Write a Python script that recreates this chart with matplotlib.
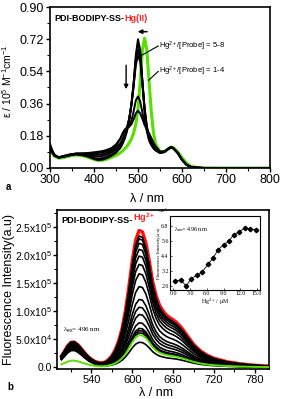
import matplotlib
matplotlib.use('Agg')
import matplotlib.pyplot as plt
from matplotlib.ticker import MultipleLocator, FixedLocator, FixedFormatter
import numpy as np

plt.rcParams['font.family'] = ['Liberation Sans', 'DejaVu Sans']
plt.rcParams['mathtext.fontset'] = 'custom'
plt.rcParams['mathtext.rm'] = 'Liberation Sans'
plt.rcParams['mathtext.it'] = 'Liberation Sans:italic'
plt.rcParams['mathtext.bf'] = 'Liberation Sans:bold'

# ---------------- panel a: absorption ----------------
wl_abs = [300, 305, 310, 320, 330, 340, 350, 360, 370, 380, 390, 400, 410, 420, 430, 440, 450, 460,
          465, 470, 475, 480, 485, 490, 495, 500, 505, 510, 515, 520, 525, 530, 535, 540,
          550, 560, 570, 575, 580, 590, 600, 610, 620, 630, 650, 700, 750, 800]
abs_green = [0.110, 0.085, 0.066, 0.055, 0.058, 0.064, 0.070, 0.073, 0.070, 0.065,
             0.057, 0.048, 0.042, 0.044, 0.050, 0.060, 0.070, 0.085,
             0.095, 0.108, 0.122, 0.140, 0.162, 0.195, 0.245, 0.330, 0.480, 0.660, 0.725, 0.660, 0.490, 0.320, 0.200, 0.135,
             0.090, 0.090, 0.108, 0.116, 0.114, 0.092, 0.058, 0.028, 0.010, 0.004, 0.001, 0.0, 0.0, 0.0]
abs_b1 = [0.135, 0.100, 0.075, 0.060, 0.062, 0.068, 0.073, 0.076, 0.073, 0.068,
          0.060, 0.050, 0.044, 0.047, 0.056, 0.068, 0.085, 0.112,
          0.135, 0.165, 0.205, 0.265, 0.350, 0.470, 0.630, 0.720, 0.660, 0.480, 0.310, 0.205, 0.155, 0.128, 0.110, 0.098,
          0.083, 0.090, 0.112, 0.118, 0.112, 0.085, 0.045, 0.018, 0.006, 0.002, 0.0, 0.0, 0.0, 0.0]
abs_b2 = [0.125, 0.095, 0.072, 0.058, 0.062, 0.068, 0.074, 0.077, 0.074, 0.070,
          0.064, 0.056, 0.052, 0.056, 0.064, 0.076, 0.092, 0.120,
          0.145, 0.175, 0.215, 0.272, 0.355, 0.470, 0.615, 0.700, 0.645, 0.485, 0.325, 0.215, 0.163, 0.133, 0.113, 0.100,
          0.084, 0.090, 0.110, 0.117, 0.112, 0.086, 0.046, 0.019, 0.006, 0.002, 0.0, 0.0, 0.0, 0.0]
abs_b3 = [0.120, 0.092, 0.070, 0.058, 0.063, 0.070, 0.076, 0.079, 0.077, 0.074,
          0.070, 0.066, 0.064, 0.068, 0.076, 0.088, 0.104, 0.132,
          0.155, 0.182, 0.220, 0.275, 0.355, 0.465, 0.595, 0.660, 0.620, 0.480, 0.335, 0.230, 0.172, 0.140, 0.117, 0.103,
          0.086, 0.091, 0.110, 0.116, 0.111, 0.085, 0.046, 0.019, 0.006, 0.002, 0.0, 0.0, 0.0, 0.0]
abs_b4 = [0.115, 0.090, 0.070, 0.058, 0.064, 0.071, 0.077, 0.080, 0.079, 0.077,
          0.075, 0.074, 0.074, 0.078, 0.086, 0.097, 0.112, 0.140,
          0.162, 0.190, 0.225, 0.278, 0.352, 0.455, 0.575, 0.630, 0.595, 0.470, 0.335, 0.235, 0.178, 0.145, 0.120, 0.105,
          0.087, 0.091, 0.110, 0.116, 0.111, 0.085, 0.046, 0.019, 0.006, 0.002, 0.0, 0.0, 0.0, 0.0]
abs_b5 = [0.110, 0.088, 0.070, 0.060, 0.066, 0.072, 0.077, 0.080, 0.080, 0.080,
          0.081, 0.082, 0.084, 0.088, 0.095, 0.105, 0.125, 0.165,
          0.195, 0.215, 0.228, 0.240, 0.265, 0.315, 0.378, 0.400, 0.372, 0.310, 0.255, 0.220, 0.192, 0.165, 0.138, 0.117,
          0.090, 0.092, 0.108, 0.114, 0.110, 0.085, 0.046, 0.019, 0.006, 0.002, 0.0, 0.0, 0.0, 0.0]
abs_b6 = [0.105, 0.085, 0.068, 0.060, 0.067, 0.073, 0.078, 0.081, 0.082, 0.083,
          0.085, 0.088, 0.091, 0.095, 0.102, 0.112, 0.132, 0.165,
          0.188, 0.210, 0.222, 0.230, 0.245, 0.272, 0.305, 0.320, 0.305, 0.275, 0.240, 0.215, 0.193, 0.168, 0.142, 0.120,
          0.092, 0.093, 0.108, 0.114, 0.110, 0.085, 0.046, 0.019, 0.006, 0.002, 0.0, 0.0, 0.0, 0.0]
abs_black = [abs_b1, abs_b2, abs_b3, abs_b4, abs_b5, abs_b6]

# ---------------- panel b: emission ----------------
wl_em = [496, 500, 505, 510, 515, 520, 525, 530, 535, 540, 545, 550, 555, 560, 565, 570, 575, 580, 585,
         590, 595, 600, 605, 610, 615, 620, 625, 630, 635, 640, 645, 650, 655, 660, 665, 670, 675, 680,
         690, 700, 710, 720, 740, 760, 780, 800]
band_510 = [0.45, 0.62, 0.85, 0.99, 1.0, 0.90, 0.74, 0.56, 0.40, 0.28, 0.18, 0.11, 0.07, 0.045, 0.03, 0.02, 0.012, 0.006, 0.003,
            0, 0, 0, 0, 0, 0, 0, 0, 0, 0, 0, 0, 0, 0, 0, 0, 0, 0, 0,
            0, 0, 0, 0, 0, 0, 0, 0]
band_610 = [0, 0, 0, 0, 0, 0, 0.002, 0.004, 0.006, 0.008, 0.011, 0.015, 0.02, 0.03, 0.05, 0.08, 0.125, 0.19, 0.28,
            0.41, 0.58, 0.77, 0.92, 0.99, 0.98, 0.90, 0.77, 0.62, 0.52, 0.45, 0.41, 0.38, 0.36, 0.345, 0.325, 0.30, 0.27, 0.235,
            0.168, 0.12, 0.088, 0.066, 0.04, 0.025, 0.015, 0.01]
# band heights (x1e5) for each titration spectrum
h610_black = [0.45, 0.62, 0.66, 0.70, 0.80, 0.95, 1.08, 1.22, 1.45, 1.68, 1.85, 2.00, 2.12, 2.23, 2.31, 2.36]
h510_black = [0.30, 0.32, 0.33, 0.35, 0.36, 0.37, 0.38, 0.39, 0.40, 0.41, 0.42, 0.43, 0.44, 0.44, 0.45, 0.45]
h610_red, h510_red = 2.46, 0.45
h610_green, h510_green = 0.58, 0.12

# inset
hg_conc = [0.3, 1.3, 2.3, 3.2, 4.2, 5.1, 6.2, 7.1, 8.0, 9.0, 9.9, 10.8, 11.7, 12.8, 13.7, 14.7]
fl_int = [2.37, 2.5, 2.0, 2.6, 2.85, 3.1, 3.73, 4.24, 4.9, 5.3, 5.57, 6.1, 6.32, 6.64, 6.59, 6.5]

W, H = 281, 399
fig = plt.figure(figsize=(W / 100, H / 100), dpi=100)

def rect(l, t, r, b):
    return [l / W, 1 - b / H, (r - l) / W, (b - t) / H]

def style(ax, lw=1.2, size=8.5):
    for s in ax.spines.values():
        s.set_linewidth(lw)
    ax.tick_params(which='major', direction='out', length=3, width=1, labelsize=size, pad=1.5)
    ax.tick_params(which='minor', direction='out', length=2, width=0.8)

# ---- panel a ----
ax1 = fig.add_axes(rect(50, 7, 270, 168))
ax1.plot(wl_abs, abs_green, color='#55e000', lw=2.2, zorder=2)
for c in abs_black:
    ax1.plot(wl_abs, c, color='black', lw=1.4, zorder=3)
ax1.set_xlim(300, 800)
ax1.set_ylim(0, 0.90)
ax1.xaxis.set_major_locator(MultipleLocator(100))
ax1.xaxis.set_minor_locator(MultipleLocator(50))
ax1.yaxis.set_major_locator(MultipleLocator(0.18))
ax1.yaxis.set_minor_locator(MultipleLocator(0.09))
ax1.yaxis.set_major_formatter(matplotlib.ticker.FormatStrFormatter('%.2f'))
style(ax1, size=9)
ax1.set_xlabel('λ / nm', fontsize=9)
ax1.xaxis.set_label_coords(0.44, -0.155)
ax1.set_ylabel('ε / 10$^5$ M$^{-1}$cm$^{-1}$', fontsize=7.5)
ax1.yaxis.set_label_coords(-0.165, 0.54)

t1 = ax1.text(0.02, 0.955, 'PDI-BODIPY-SS-', transform=ax1.transAxes, fontsize=6.5,
              fontweight='bold', va='top', ha='left')
ax1.annotate('Hg(II)', xy=(1, 0), xycoords=t1, fontsize=6.5, fontweight='bold',
             color='#ff2020', va='bottom', ha='left')
ax1.annotate('', xy=(493, 0.762), xytext=(527, 0.762),
             arrowprops=dict(arrowstyle='-|>', lw=1.1, color='black', mutation_scale=6))
ax1.annotate('', xy=(473, 0.425), xytext=(473, 0.59),
             arrowprops=dict(arrowstyle='-|>', lw=1.0, color='black', mutation_scale=6))
ax1.text(547, 0.682, 'Hg$^{2+}$/[Probe] = 5-8', fontsize=5.5, va='center', ha='left')
ax1.plot([546, 509], [0.682, 0.631], color='black', lw=0.8)
ax1.text(547, 0.54, 'Hg$^{2+}$/[Probe] = 1-4', fontsize=5.5, va='center', ha='left')
ax1.plot([546, 524], [0.54, 0.49], color='black', lw=0.8)
fig.text(8 / W, 1 - 187 / H, 'a', fontsize=7, fontweight='bold', va='center', ha='center')

# ---- panel b ----
ax2 = fig.add_axes(rect(57.3, 210, 268.5, 368.5))
b510 = np.array(band_510)
b610 = np.array(band_610)
ax2.plot(wl_em, (h510_red * b510 + h610_red * b610) * 1e5, color='#ff1010', lw=2.4, zorder=2)
for h1, h2 in zip(h510_black, h610_black):
    ax2.plot(wl_em, (h1 * b510 + h2 * b610) * 1e5, color='black', lw=1.2, zorder=3)
ax2.plot(wl_em, (h510_green * b510 + h610_green * b610) * 1e5, color='#55e000', lw=1.4, zorder=4)
ax2.set_xlim(490, 800)
ax2.set_ylim(-0.02e5, 2.8e5)
ax2.xaxis.set_minor_locator(MultipleLocator(30))
yt = [0, 0.5e5, 1.0e5, 1.5e5, 2.0e5, 2.5e5]
ax2.yaxis.set_major_locator(FixedLocator(yt))
ax2.yaxis.set_major_formatter(FixedFormatter(['0.0', '5.0x10$^4$', '1.0x10$^5$', '1.5x10$^5$',
                                              '2.0x10$^5$', '2.5x10$^5$']))
ax2.yaxis.set_minor_locator(MultipleLocator(0.25e5))
style(ax2, size=8)
ax2.tick_params(axis='y', which='major', pad=0.5, labelsize=7.5)
ax2.set_xticks([540, 600, 660, 720, 780])
ax2.set_xlabel('λ / nm', fontsize=9)
ax2.xaxis.set_label_coords(0.468, -0.115)
ax2.set_ylabel('Fluorescence Intensity(a.u)', fontsize=9)
ax2.yaxis.set_label_coords(-0.2, 0.5)
t2 = ax2.text(0.02, 0.96, 'PDI-BODIPY-SS-', transform=ax2.transAxes, fontsize=6.6,
              fontweight='bold', va='top', ha='left')
ax2.annotate('Hg$^{\\mathbf{2+}}$', xy=(1, 0), xycoords=t2, fontsize=6.6, fontweight='bold',
             color='#ff2020', va='bottom', ha='left')
ax2.text(0.025, 0.24, 'λ$_{\\rm ex}$= 496 nm', transform=ax2.transAxes, fontsize=5,
         family=['Liberation Serif', 'DejaVu Serif'], va='center', ha='left')
fig.text(10 / W, 1 - 387 / H, 'b', fontsize=7, fontweight='bold', va='center', ha='center')

# ---- inset ----
ax3 = fig.add_axes(rect(170, 216, 260, 290))
ax3.plot(hg_conc, fl_int, color='black', lw=0.6, marker='D', ms=2.3)
ax3.set_xlim(-0.6, 15.5)
ax3.set_ylim(1.68, 7.6)
ax3.set_xticks([0, 3, 6, 9, 12, 15])
ax3.set_xticklabels(['0.0', '3.0', '6.0', '9.0', '12.0', '15.0'])
ax3.set_yticks([2.0, 3.2, 4.4, 5.6, 6.8])
ax3.set_yticklabels(['2.0', '3.2', '4.4', '5.6', '6.8'])
for s in ax3.spines.values():
    s.set_linewidth(0.8)
ax3.tick_params(direction='in', length=1.5, width=0.5, labelsize=4.2, pad=1)
for lab in ax3.get_xticklabels() + ax3.get_yticklabels():
    lab.set_family(['Liberation Serif', 'DejaVu Serif'])
ax3.set_xlabel('Hg$^{2+}$ / μM', fontsize=4.2, labelpad=0.5, family=['Liberation Serif', 'DejaVu Serif'])
ax3.set_ylabel('Fluorescence Intensity(a.u)', fontsize=3.4, labelpad=0.5,
               family=['Liberation Serif', 'DejaVu Serif'])
ax3.text(0.05, 0.82, 'λ$_{\\rm ex}$= 496 nm', transform=ax3.transAxes, fontsize=4.5,
         family=['Liberation Serif', 'DejaVu Serif'], va='center', ha='left')
ax3.text(-0.02, 1.0, '×10$^5$', transform=ax3.transAxes, fontsize=3.2, va='bottom', ha='right')

fig.savefig('out.png', dpi=100)
